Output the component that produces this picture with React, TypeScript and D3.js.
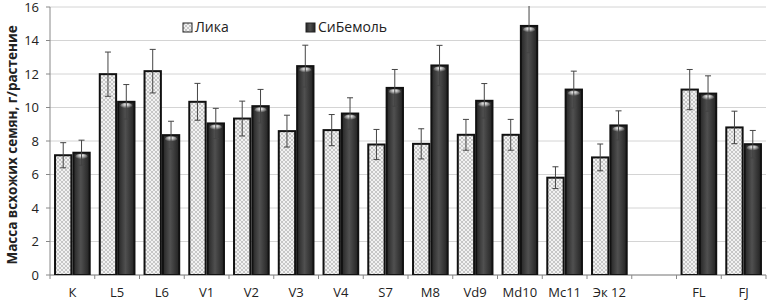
import React from "react";
import * as d3 from "d3";

const categories = ["К", "L5", "L6", "V1", "V2", "V3", "V4", "S7", "M8", "Vd9", "Md10", "Mc11", "Эк 12", "", "FL", "FJ"];
const seriesNames = ["Лика", "СиБемоль"];
const likaValues = [7.15, 11.99, 12.17, 10.34, 9.34, 8.59, 8.65, 7.79, 7.83, 8.37, 8.37, 5.81, 7.02, NaN, 11.07, 8.81];
const likaErrors = [0.75, 1.32, 1.3, 1.1, 1.04, 0.95, 0.93, 0.9, 0.9, 0.92, 0.92, 0.65, 0.8, NaN, 1.2, 0.97];
const sibValues = [7.3, 10.34, 8.35, 9.05, 10.08, 12.47, 9.64, 11.17, 12.51, 10.4, 14.87, 11.07, 8.93, NaN, 10.83, 7.81];
const sibErrors = [0.75, 1.03, 0.83, 0.9, 1.0, 1.25, 0.94, 1.1, 1.2, 1.03, 1.6, 1.1, 0.87, NaN, 1.06, 0.82];
const yTicks = [0, 2, 4, 6, 8, 10, 12, 14, 16];
const yTitle = "Масса всхожих семян, г/растение";

const W = 776;
const H = 302;
const M = { left: 50, right: 10, top: 7, bottom: 27 };
const FONT = "'Open Sans', 'DejaVu Sans', sans-serif";

export default function App() {
  const x0 = d3.scaleBand<number>().domain(d3.range(categories.length)).range([M.left, W - M.right]).padding(0);
  const x1 = d3.scaleBand<string>().domain(seriesNames).range([0, x0.bandwidth()]).paddingInner(0).paddingOuter(0.22);
  const y = d3.scaleLinear().domain([0, 16]).range([H - M.bottom, M.top]);
  const series = [
    { name: seriesNames[0], values: likaValues, errors: likaErrors },
    { name: seriesNames[1], values: sibValues, errors: sibErrors },
  ];
  const bw = x1.bandwidth();
  const y0 = y(0);
  const boundaries = d3.range(categories.length + 1).map((i) => M.left + i * x0.step());

  return (
    <svg width={W} height={H} style={{ position: "absolute", left: 0, top: 0, background: "#fff" }} fontFamily={FONT}>
      <defs>
        <pattern id="hatch" width="4" height="4" patternUnits="userSpaceOnUse">
          <rect width="4" height="4" fill="#f2f2f2" />
          <path d="M0,0 L4,4 M4,0 L0,4" stroke="#bdbdbd" strokeWidth="0.8" />
        </pattern>
        <linearGradient id="dark" x1="0" x2="1" y1="0" y2="0">
          <stop offset="0" stopColor="#262626" />
          <stop offset="0.45" stopColor="#505050" />
          <stop offset="1" stopColor="#222" />
        </linearGradient>
        <radialGradient id="glint" cx="0.5" cy="0.3" r="0.6">
          <stop offset="0" stopColor="#ffffff" stopOpacity="1" />
          <stop offset="1" stopColor="#ffffff" stopOpacity="0" />
        </radialGradient>
        <clipPath id="plotclip">
          <rect x={M.left} y={M.top - 1} width={W - M.left - M.right} height={H - M.top - M.bottom + 1} />
        </clipPath>
      </defs>

      {/* grid */}
      {yTicks.map((t) => (
        <line key={"g" + t} x1={M.left} x2={W - M.right} y1={y(t)} y2={y(t)} stroke="#d4d4d4" strokeWidth={1} />
      ))}
      {/* axes */}
      <line x1={M.left} x2={M.left} y1={M.top} y2={y0} stroke="#888" />
      <line x1={M.left} x2={W - M.right} y1={y0} y2={y0} stroke="#888" />
      {yTicks.map((t) => (
        <line key={"yt" + t} x1={M.left - 4} x2={M.left} y1={y(t)} y2={y(t)} stroke="#888" />
      ))}
      {boundaries.map((b, i) => (
        <line key={"xt" + i} x1={b} x2={b} y1={y0} y2={y0 + 4} stroke="#888" />
      ))}

      {/* bars */}
      <g clipPath="url(#plotclip)">
        {categories.map((c, i) =>
          series.map((s, si) => {
            const v = s.values[i];
            if (isNaN(v)) return null;
            const bx = (x0(i) as number) + (x1(s.name) as number);
            const top = y(v);
            return (
              <g key={c + s.name}>
                <rect
                  x={bx + 1}
                  y={top}
                  width={bw - 2}
                  height={y0 - top}
                  fill={si === 0 ? "url(#hatch)" : "url(#dark)"}
                  stroke="#111"
                  strokeWidth={2}
                />
                {si === 1 && (
                  <ellipse cx={bx + bw / 2} cy={top + 4} rx={bw / 2 - 3} ry={3} fill="url(#glint)" />
                )}
              </g>
            );
          })
        )}
        {/* error bars */}
        {categories.map((c, i) =>
          series.map((s) => {
            const v = s.values[i];
            if (isNaN(v)) return null;
            const cx = (x0(i) as number) + (x1(s.name) as number) + bw / 2;
            const hi = y(v + s.errors[i]);
            const lo = y(v - s.errors[i]);
            return (
              <g key={"e" + c + s.name} stroke="#444" strokeWidth={1}>
                <line x1={cx} x2={cx} y1={hi} y2={lo} />
                <line x1={cx - 3} x2={cx + 3} y1={hi} y2={hi} />
                <line x1={cx - 3} x2={cx + 3} y1={lo} y2={lo} />
              </g>
            );
          })
        )}
      </g>

      {/* y tick labels */}
      {yTicks.map((t) => (
        <text key={"yl" + t} x={39} y={y(t) + 4.6} textAnchor="end" fontSize={13} fill="#222">
          {t}
        </text>
      ))}
      {/* x labels */}
      {categories.map((c, i) => (
        <text key={"xl" + i} x={(x0(i) as number) + x0.bandwidth() / 2} y={297} textAnchor="middle" fontSize={13} fill="#222">
          {c}
        </text>
      ))}
      {/* y title */}
      <text
        transform={`translate(17,${(M.top + y0) / 2 + 4}) rotate(-90)`}
        textAnchor="middle"
        fontSize={13.5}
        fontWeight="bold"
        fill="#222"
      >
        {yTitle}
      </text>

      {/* legend */}
      <g>
        <rect x={183} y={23} width={9} height={9} fill="url(#hatch)" stroke="#222" strokeWidth={1} />
        <text x={195} y={32} fontSize={14} fill="#222">{seriesNames[0]}</text>
        <rect x={306} y={23} width={9} height={9} fill="url(#dark)" stroke="#222" strokeWidth={1} />
        <text x={318} y={32} fontSize={14} fill="#222">{seriesNames[1]}</text>
      </g>
    </svg>
  );
}
